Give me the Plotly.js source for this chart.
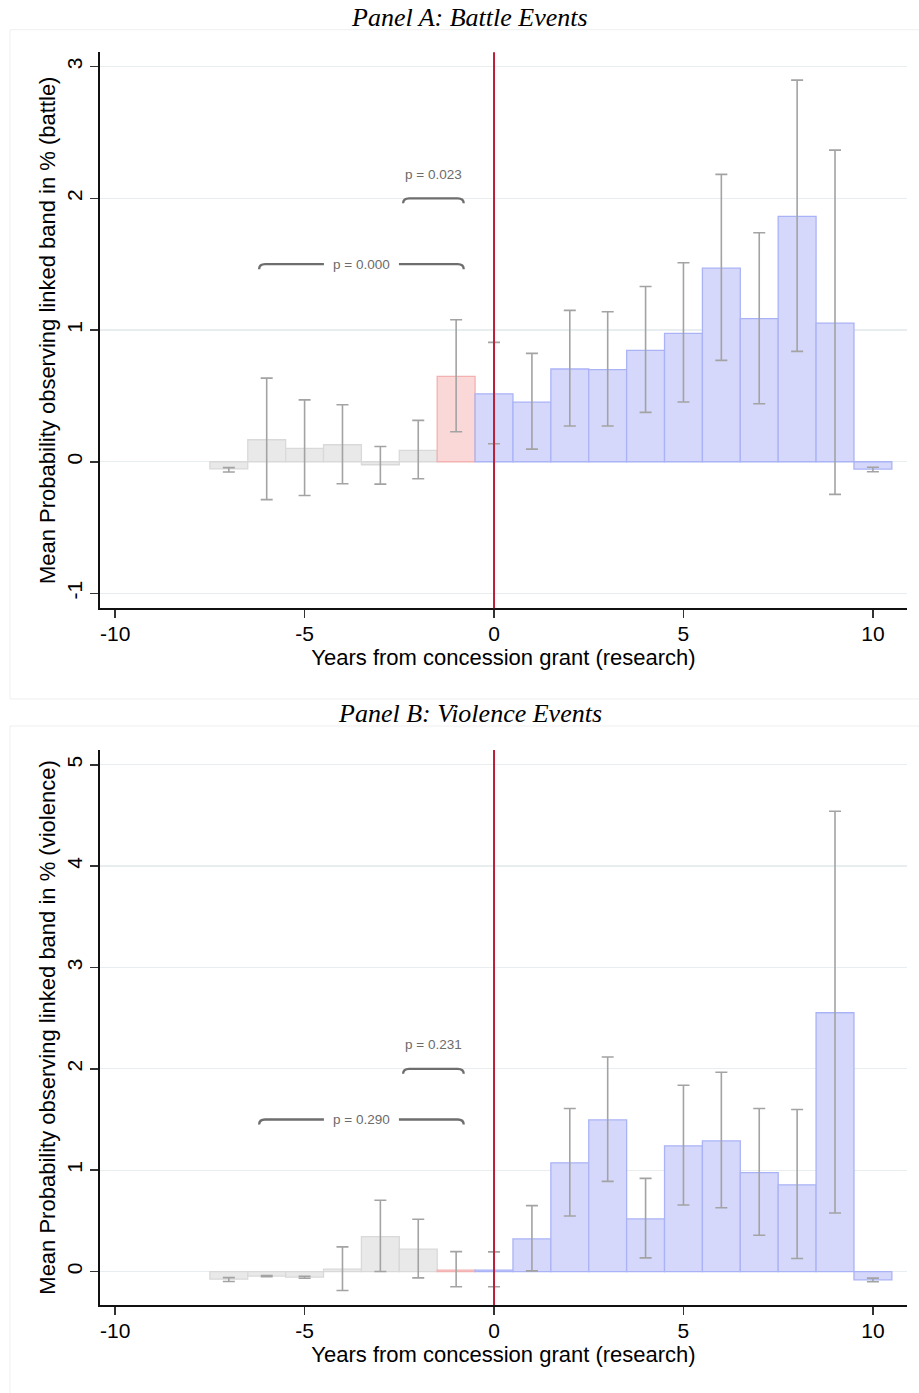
<!DOCTYPE html>
<html>
<head>
<meta charset="utf-8">
<script src="https://cdn.plot.ly/plotly-3.0.1.min.js"></script>
<style>
  html, body { margin: 0; padding: 0; background: #ffffff; }
  #chart { width: 919px; height: 1393px; }
</style>
</head>
<body>
<div id="chart"></div>
<script>
// Event-study estimates by year relative to the concession grant
const years = [-7, -6, -5, -4, -3, -2, -1, 0, 1, 2, 3, 4, 5, 6, 7, 8, 9, 10];

// Panel A: battle events (mean probability, %, with 95% CI)
const battleEst = [-0.055, 0.167, 0.101, 0.129, -0.023, 0.086, 0.648, 0.516, 0.453, 0.704, 0.699, 0.845, 0.974, 1.470, 1.086, 1.863, 1.053, -0.056];
const battleLo  = [-0.078, -0.288, -0.256, -0.167, -0.170, -0.129, 0.228, 0.137, 0.096, 0.271, 0.271, 0.375, 0.453, 0.770, 0.440, 0.838, -0.248, -0.076];
const battleHi  = [-0.045, 0.635, 0.470, 0.433, 0.116, 0.314, 1.078, 0.906, 0.823, 1.149, 1.139, 1.331, 1.511, 2.182, 1.739, 2.898, 2.366, -0.042];

// Panel B: violence events
const violenceEst = [-0.075, -0.045, -0.055, 0.023, 0.345, 0.221, 0.015, 0.015, 0.322, 1.073, 1.496, 0.519, 1.240, 1.289, 0.975, 0.856, 2.553, -0.082];
const violenceLo  = [-0.098, -0.052, -0.066, -0.187, 0.000, -0.062, -0.150, -0.150, 0.007, 0.548, 0.890, 0.135, 0.656, 0.630, 0.358, 0.128, 0.578, -0.100];
const violenceHi  = [-0.060, -0.040, -0.046, 0.243, 0.703, 0.516, 0.197, 0.194, 0.650, 1.608, 2.116, 0.919, 1.838, 1.966, 1.608, 1.598, 4.541, -0.065];

// Pre-period comparison brackets (start year, end year, height) and p-values
const bracketStart = [-6.2, -2.4];
const bracketEnd   = [-0.8, -0.8];
const bracketLevel = [1.5, 2.0];
const battlePValues   = ['0.000', '0.023'];
const violencePValues = ['0.290', '0.231'];

const xTicks = [-10, -5, 0, 5, 10];
const battleTicks = [-1, 0, 1, 2, 3];
const violenceTicks = [0, 1, 2, 3, 4, 5];

// ---- layout geometry (pixels in a 919 x 1393 figure) ----
const W = 919, H = 1393;
const plotLeft = 100, plotRight = 907;
const xRange = [-10.4, 10.9];
const panels = [
  { top: 52.3, bottom: 608.3, yRange: [-1.113, 3.109] },
  { top: 750, bottom: 1305, yRange: [-0.33, 5.145] }
];

const GRAY_FILL = '#e9e9e9', GRAY_LINE = '#d9d9d9';
const RED_FILL = '#fad8d8', RED_LINE = '#f4b1b1';
const BLUE_FILL = '#d5d8fa', BLUE_LINE = '#aab3f6';
const FONT = 'Liberation Sans, Arial, Helvetica, sans-serif';

function periodColor(y, pre, lead, post) {
  if (y < -1) return pre;
  if (y === -1) return lead;
  return post;
}

function barTrace(est, lo, hi, axisSuffix) {
  return {
    type: 'bar',
    x: years,
    y: est,
    width: 1,
    xaxis: 'x' + axisSuffix,
    yaxis: 'y' + axisSuffix,
    marker: {
      color: years.map(y => periodColor(y, GRAY_FILL, RED_FILL, BLUE_FILL)),
      line: { color: years.map(y => periodColor(y, GRAY_LINE, RED_LINE, BLUE_LINE)), width: 1.3 }
    },
    error_y: {
      type: 'data',
      symmetric: false,
      array: hi.map((h, i) => h - est[i]),
      arrayminus: lo.map((l, i) => est[i] - l),
      color: '#a3a3a3',
      thickness: 1.6,
      width: 6
    },
    hoverinfo: 'x+y',
    showlegend: false
  };
}

const traces = [
  barTrace(battleEst, battleLo, battleHi, ''),
  barTrace(violenceEst, violenceLo, violenceHi, '2')
];

function paperY(px) { return (H - px) / H; }

function xAxis(anchor, title) {
  return {
    domain: [plotLeft / W, plotRight / W],
    range: xRange,
    anchor: anchor,
    tickvals: xTicks,
    ticktext: xTicks.map(String),
    ticks: 'outside', ticklen: 8, tickwidth: 1.6, tickcolor: '#333333',
    showline: true, linecolor: '#111111', linewidth: 1.6,
    showgrid: false, zeroline: false,
    tickfont: { family: FONT, size: 21, color: '#000000' },
    ticklabelstandoff: -2,
    title: { text: title, font: { family: FONT, size: 22, color: '#000000' }, standoff: 5 },
    fixedrange: true
  };
}

function yAxis(anchor, panel, ticks, title) {
  return {
    domain: [paperY(panel.bottom), paperY(panel.top)],
    range: panel.yRange,
    anchor: anchor,
    tickvals: ticks,
    ticktext: ticks.map(String),
    tickangle: -90,
    ticks: 'outside', ticklen: 8, tickwidth: 1.6, tickcolor: '#333333',
    showline: true, linecolor: '#111111', linewidth: 1.6,
    showgrid: true, gridcolor: '#e8eef0', gridwidth: 1.3,
    zeroline: false,
    tickfont: { family: FONT, size: 21, color: '#000000' },
    title: { text: title, font: { family: FONT, size: 22, color: '#000000' }, standoff: 1 },
    fixedrange: true
  };
}

const shapes = [];
const annotations = [];

// faint frames around each panel's graph region
shapes.push({ type: 'rect', xref: 'paper', yref: 'paper', x0: 10 / W, x1: 1.01, y0: paperY(699), y1: paperY(29.7),
  line: { color: '#efefef', width: 1 }, fillcolor: 'rgba(0,0,0,0)', layer: 'below' });
shapes.push({ type: 'rect', xref: 'paper', yref: 'paper', x0: 10 / W, x1: 1.01, y0: -0.01, y1: paperY(726),
  line: { color: '#efefef', width: 1 }, fillcolor: 'rgba(0,0,0,0)', layer: 'below' });

// grant year marker
['', '2'].forEach(s => {
  shapes.push({ type: 'line', xref: 'x' + s, yref: 'y' + s + ' domain', x0: 0, x1: 0, y0: 0, y1: 1,
    line: { color: '#b8203a', width: 2 } });
});

// curly comparison brackets with p-values
function addBrackets(axisSuffix, panel, pValues) {
  const pxPerX = (plotRight - plotLeft) / (xRange[1] - xRange[0]);
  const pxPerY = (panel.bottom - panel.top) / (panel.yRange[1] - panel.yRange[0]);
  const dx = 6 / pxPerX, dy = 5 / pxPerY, gap = 37.5 / pxPerX;
  bracketStart.forEach((x0, i) => {
    const x1 = bracketEnd[i], y = bracketLevel[i], cx = (x0 + x1) / 2;
    const inline = (x1 - x0) > 3;
    let path;
    if (inline) {
      path = `M ${x0} ${y - dy} Q ${x0} ${y} ${x0 + dx} ${y} L ${cx - gap} ${y} ` +
             `M ${cx + gap} ${y} L ${x1 - dx} ${y} Q ${x1} ${y} ${x1} ${y - dy}`;
    } else {
      path = `M ${x0} ${y - dy} Q ${x0} ${y} ${x0 + dx} ${y} L ${x1 - dx} ${y} Q ${x1} ${y} ${x1} ${y - dy}`;
    }
    shapes.push({ type: 'path', xref: 'x' + axisSuffix, yref: 'y' + axisSuffix, path: path,
      line: { color: '#6e6e6e', width: 2.3 } });
    annotations.push({ xref: 'x' + axisSuffix, yref: 'y' + axisSuffix, x: cx, y: y,
      text: 'p = ' + pValues[i], showarrow: false, xanchor: 'center', yanchor: 'middle',
      yshift: inline ? 0 : 24,
      font: { family: FONT, size: 13.5, color: '#6b6b6b' } });
  });
}
addBrackets('', panels[0], battlePValues);
addBrackets('2', panels[1], violencePValues);

// panel titles
const titleFont = { family: 'Liberation Serif, Times New Roman, serif', size: 26, color: '#000000', style: 'italic' };
annotations.push({ xref: 'paper', yref: 'paper', x: 470 / W, y: paperY(18), text: 'Panel A: Battle Events',
  showarrow: false, xanchor: 'center', yanchor: 'middle', font: titleFont });
annotations.push({ xref: 'paper', yref: 'paper', x: 470 / W, y: paperY(713), text: 'Panel B: Violence Events',
  showarrow: false, xanchor: 'center', yanchor: 'middle', font: titleFont });

const layout = {
  width: W, height: H,
  margin: { l: 0, r: 0, t: 0, b: 0 },
  paper_bgcolor: '#ffffff', plot_bgcolor: '#ffffff',
  showlegend: false,
  bargap: 0,
  xaxis: xAxis('y', 'Years from concession grant (research)'),
  yaxis: yAxis('x', panels[0], battleTicks, 'Mean Probability observing linked band in % (battle)'),
  xaxis2: xAxis('y2', 'Years from concession grant (research)'),
  yaxis2: yAxis('x2', panels[1], violenceTicks, 'Mean Probability observing linked band in % (violence)'),
  shapes: shapes,
  annotations: annotations
};

Plotly.newPlot('chart', traces, layout, { displayModeBar: false, staticPlot: true });
</script>
</body>
</html>
